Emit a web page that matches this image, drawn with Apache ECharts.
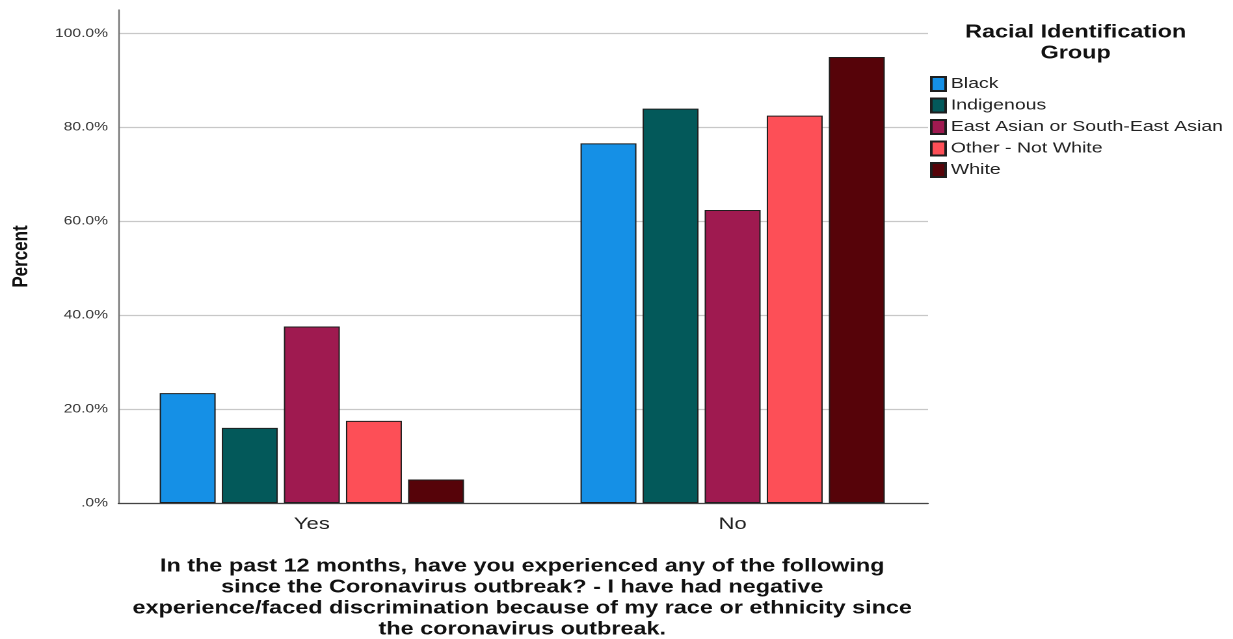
<!DOCTYPE html>
<html><head><meta charset="utf-8">
<script src="https://cdn.jsdelivr.net/npm/echarts@6/dist/echarts.min.js"></script>
<style>
html,body{margin:0;padding:0;background:#fff;overflow:hidden;width:1233px;height:639px}
/* the reference picture is horizontally stretched (~1.3x); reproduce that stretch */
#c{width:948px;height:639px;transform:scaleX(1.3007);transform-origin:0 0}
</style>
</head><body><div id="c"></div>
<script>
const categories = ['Yes', 'No'];
const groups = ['Black', 'Indigenous', 'East Asian or South-East Asian', 'Other - Not White', 'White'];
const blackVals = [23.4, 76.6];
const indigenousVals = [16.0, 84.0];
const eastAsianVals = [37.6, 62.4];
const otherVals = [17.5, 82.5];
const whiteVals = [5.0, 95.0];
const colors = ['#1590E6', '#03595A', '#9F1A50', '#FD4F57', '#560309'];
const yTicks = [0, 20, 40, 60, 80, 100];

const seriesVals = [blackVals, indigenousVals, eastAsianVals, otherVals, whiteVals];
const FONT = '"Liberation Sans", Arial, sans-serif';

const chart = echarts.init(document.getElementById('c'), null, {renderer: 'canvas', devicePixelRatio: 2});
chart.setOption({
  animation: false,
  backgroundColor: '#fff',
  textStyle: {fontFamily: FONT},
  title: [
    {
      text: 'In the past 12 months, have you experienced any of the following\nsince the Coronavirus outbreak? - I have had negative\nexperience/faced discrimination because of my race or ethnicity since\nthe coronavirus outbreak.',
      left: 396.5, top: 551, textAlign: 'center',
      textStyle: {fontFamily: FONT, fontSize: 18, fontWeight: 'bold', color: '#111', lineHeight: 21}
    },
    {
      text: 'Racial Identification\nGroup',
      left: 822, top: 17, textAlign: 'center',
      textStyle: {fontFamily: FONT, fontSize: 18, fontWeight: 'bold', color: '#111', lineHeight: 21}
    }
  ],
  legend: {
    orient: 'vertical', left: 710, top: 71,
    itemWidth: 11, itemHeight: 14, itemGap: 5.5,
    icon: 'rect',
    data: groups,
    textStyle: {fontFamily: FONT, fontSize: 15, color: '#222', padding: [0, 0, 0, -1]}
  },
  grid: [
    {left: 90, right: 234.5, top: 10, bottom: 136},
    {left: 78, right: 223, top: 10, bottom: 136}
  ],
  xAxis: [
    {
      type: 'category', gridIndex: 0, data: categories,
      axisLine: {show: true, lineStyle: {color: '#444', width: 1.2}},
      axisTick: {show: false}, axisLabel: {show: false}
    },
    {
      type: 'category', gridIndex: 1, data: categories,
      axisLine: {show: false}, axisTick: {show: false},
      axisLabel: {show: true, fontFamily: FONT, fontSize: 17, color: '#222', margin: 13}
    }
  ],
  yAxis: [
    {
      type: 'value', gridIndex: 0, min: 0, max: 105, interval: 20,
      name: 'Percent', nameLocation: 'middle', nameGap: 66,
      nameTextStyle: {fontFamily: FONT, fontSize: 17, fontWeight: 'bold', color: '#111'},
      axisLine: {show: true, lineStyle: {color: '#777', width: 1.2}},
      axisTick: {show: false},
      axisLabel: {
        fontFamily: FONT, fontSize: 12, color: '#333', margin: 8, showMaxLabel: false,
        formatter: v => yTicks.indexOf(v) >= 0 ? (v === 0 ? '.0%' : v.toFixed(1) + '%') : ''
      },
      splitLine: {show: true, showMaxLine: false, lineStyle: {color: '#c8c8c8', width: 1.3}}
    },
    {
      type: 'value', gridIndex: 1, min: 0, max: 105, interval: 20,
      show: false, splitLine: {show: false}
    }
  ],
  series: groups.map((g, i) => ({
    name: g, type: 'bar', xAxisIndex: 1, yAxisIndex: 1,
    data: seriesVals[i], barWidth: 43, barGap: '11%',
    itemStyle: {color: colors[i], borderColor: '#1e1e1e', borderWidth: 1}
  }))
});
</script></body></html>
